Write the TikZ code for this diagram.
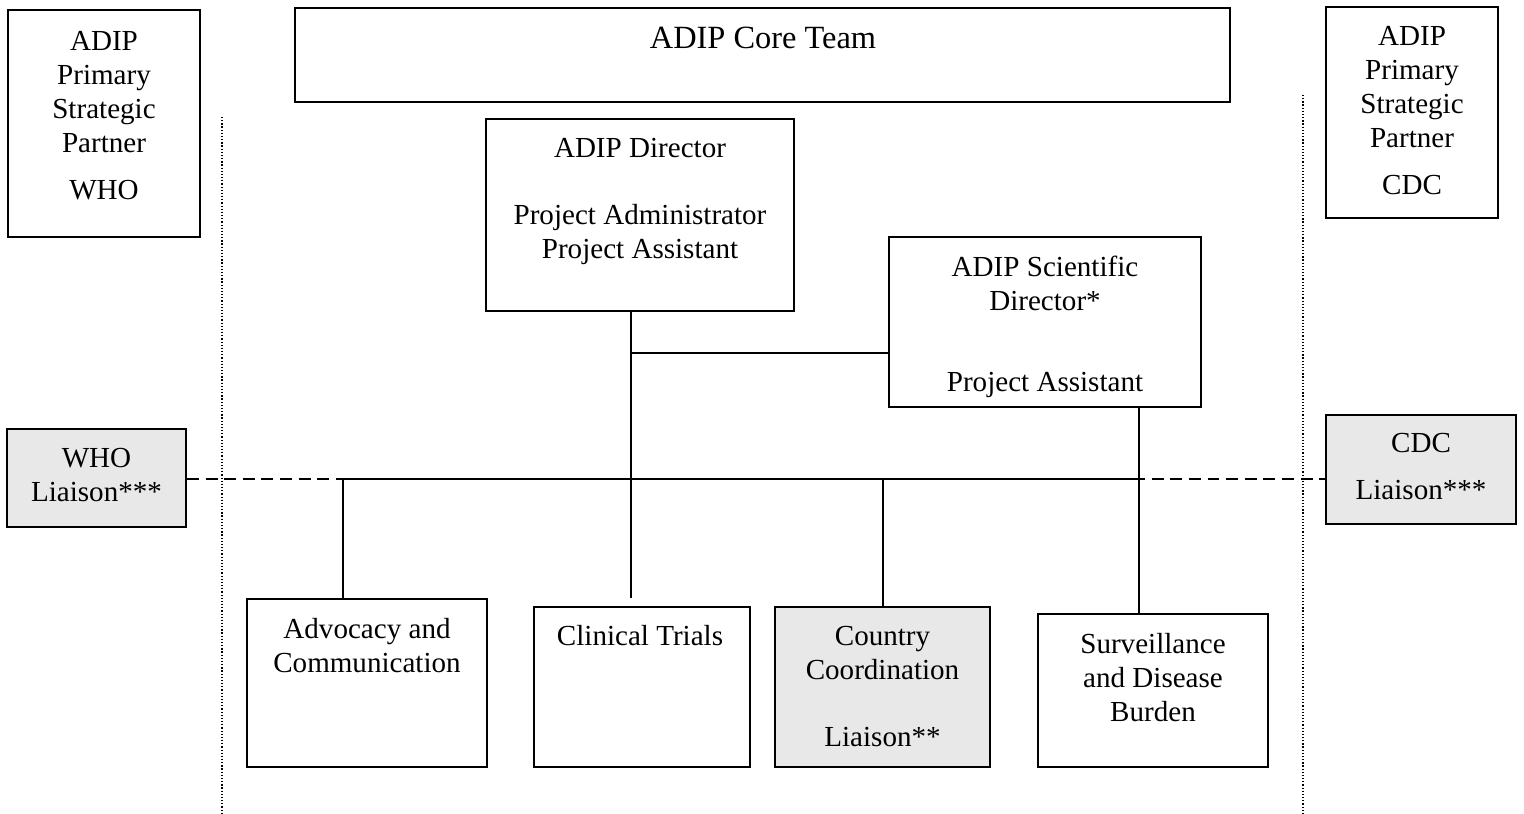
\documentclass[tikz,border=0pt]{standalone}
\usepackage{fontspec}
\setmainfont{Liberation Serif}
\usetikzlibrary{fit}
\begin{document}
\begin{tikzpicture}[x=0.02cm,y=-0.02cm,
  box/.style={draw, line width=1.1pt, inner sep=0pt},
  shaded/.style={fill=gray!18},
  txt/.style={anchor=north, inner sep=0pt, align=center,
    font=\fontsize{16.55pt}{19.28pt}\selectfont},
  bigtxt/.style={txt, font=\fontsize{18.44pt}{21.2pt}\selectfont},
  link/.style={line width=1pt},
  guide/.style={line width=0.7pt, dash pattern=on 0.7pt off 1.1pt},
  liaisonlink/.style={line width=1pt, dash pattern=on 6.8pt off 3.8pt}]
\useasboundingbox (0,0) rectangle (1524,814);

% dotted side separators
\coordinate (gl1) at (222,117);
\coordinate (gl2) at (222,814);
\coordinate (gr1) at (1303,95);
\coordinate (gr2) at (1303,814);
\draw[guide] (gl1) -- (gl2);
\draw[guide] (gr1) -- (gr2);

% boxes
\node[box, fit={(8,10) (200,237)}] (whoP) {};
\node[box, fit={(295,8) (1230,102)}] (core) {};
\node[box, fit={(1326,7) (1498,218)}] (cdcP) {};
\node[box, fit={(486,119) (794,311)}] (dir) {};
\node[box, fit={(889,237) (1201,407)}] (sci) {};
\node[box, shaded, fit={(7,429) (186,527)}] (whoL) {};
\node[box, shaded, fit={(1326,415) (1516,524)}] (cdcL) {};
\node[box, fit={(247,599) (487,767)}] (adv) {};
\node[box, fit={(534,607) (750,767)}] (clin) {};
\node[box, shaded, fit={(775,607) (990,767)}] (ctry) {};
\node[box, fit={(1038,614) (1268,767)}] (surv) {};

% texts
\node[txt] (whoPt) at (whoP.north |- 0,31) {ADIP\\Primary\\Strategic\\Partner\\[0.26cm]WHO};
\node[bigtxt] (coret) at (763,27) {ADIP Core Team};
\node[txt] (cdcPt) at (cdcP.north |- 0,26) {ADIP\\Primary\\Strategic\\Partner\\[0.26cm]CDC};
\node[txt] (dirt) at (dir.north |- 0,138) {ADIP Director\\[0.66cm]Project Administrator\\Project Assistant};
\node[txt] (scit) at (sci.north |- 0,256) {ADIP Scientific\\Director*\\[0.94cm]Project Assistant};
\node[txt] (whoLt) at (whoL.north |- 0,448) {WHO\\Liaison***};
\node[txt] (cdcLt) at (cdcL.north |- 0,433) {CDC\\[0.26cm]Liaison***};
\node[txt] (advt) at (adv.north |- 0,618) {Advocacy and\\Communication};
\node[txt] (clint) at (640,625) {Clinical Trials};
\node[txt] (ctryt) at (ctry.north |- 0,626) {Country\\Coordination\\[0.66cm]Liaison**};
\node[txt] (survt) at (surv.north |- 0,633) {Surveillance\\and Disease\\Burden};

% connectors
\coordinate (busL) at (343,479);
\coordinate (busR) at (1133,479);
\coordinate (dirx) at (631,353);
\coordinate (ctryx) at (883,479);
\coordinate (scix) at (1139,407);
\draw[liaisonlink] (whoL.east |- busL) -- (busL);
\draw[link] (busL) -- (busR);
\draw[liaisonlink] (busR) -- (cdcL.west |- busR);
\draw[link] (busL) -- (adv.north -| busL);
\draw[link] (dir.south -| dirx) -- ([yshift=4.5pt]clin.north -| dirx);
\draw[link] (dirx) -- (sci.west |- dirx);
\draw[link] (ctryx) -- (ctry.north -| ctryx);
\draw[link] (sci.south -| scix) -- (surv.north -| scix);
\end{tikzpicture}
\end{document}
